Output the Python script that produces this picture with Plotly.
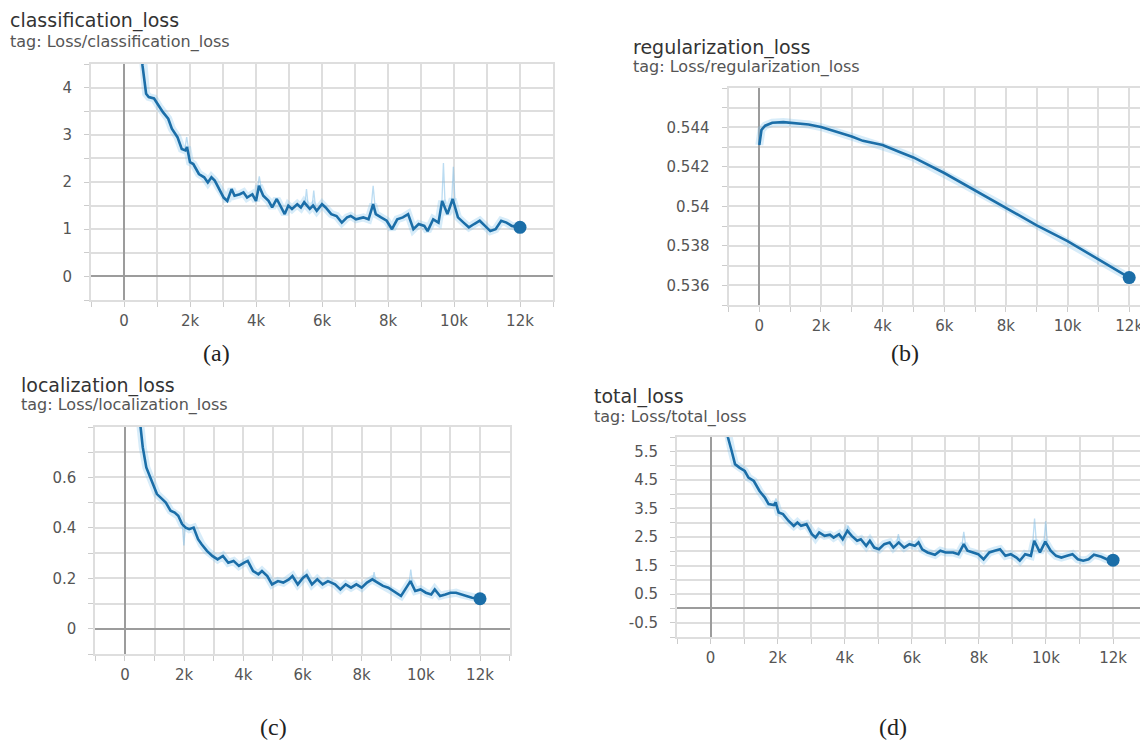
import numpy as np
import plotly.graph_objects as go

# ---------------- data ----------------
x_tick_vals = [0, 2000, 4000, 6000, 8000, 10000, 12000]
x_tick_text = ["0", "2k", "4k", "6k", "8k", "10k", "12k"]

cls_steps = [500, 560, 670, 750, 910, 1070, 1180, 1340, 1450, 1620, 1750, 1860, 1910, 2000, 2100, 2270,
             2430, 2540, 2650, 2750, 2860, 3020, 3130, 3260, 3350, 3510, 3620, 3730, 3890, 4000, 4090,
             4220, 4380, 4490, 4630, 4760, 4870, 4980, 5090, 5250, 5360, 5460, 5630, 5730, 5840, 6000,
             6110, 6280, 6440, 6600, 6760, 6870, 7030, 7250, 7410, 7550, 7630, 7790, 7960, 8120, 8280,
             8450, 8610, 8770, 8930, 9100, 9200, 9370, 9530, 9640, 9800, 9960, 10120, 10290, 10450,
             10610, 10780, 10940, 11100, 11260, 11430, 11590, 11750, 12000]
cls_vals = [5.2, 4.47, 3.87, 3.80, 3.77, 3.59, 3.48, 3.34, 3.13, 2.95, 2.70, 2.67, 2.74, 2.42, 2.38, 2.17,
            2.10, 1.99, 2.10, 2.03, 1.89, 1.67, 1.60, 1.85, 1.71, 1.74, 1.78, 1.67, 1.74, 1.60, 1.92,
            1.71, 1.60, 1.46, 1.64, 1.46, 1.32, 1.50, 1.43, 1.53, 1.46, 1.57, 1.43, 1.50, 1.39, 1.53,
            1.46, 1.32, 1.28, 1.14, 1.25, 1.28, 1.21, 1.25, 1.21, 1.53, 1.32, 1.25, 1.18, 1.00, 1.21,
            1.25, 1.32, 1.00, 1.11, 1.07, 0.96, 1.21, 1.14, 1.60, 1.32, 1.64, 1.25, 1.14, 1.04,
            1.11, 1.18, 1.07, 0.96, 1.00, 1.18, 1.14, 1.07, 1.04]
cls_spike_steps = [1900, 4100, 5530, 5750, 7550, 9680, 9980]
cls_spike_vals = [2.95, 2.12, 1.85, 1.82, 1.92, 2.40, 2.32]
cls_y_ticks = [0, 1, 2, 3, 4]
cls_y_text = ["0", "1", "2", "3", "4"]

reg_steps = [0, 70, 190, 420, 780, 1250, 1600, 2000, 2420, 3000, 3360, 4000, 4530, 5000, 6000, 7000,
             8000, 9000, 10000, 11000, 12000]
reg_vals = [0.54311, 0.54388, 0.54409, 0.54424, 0.54427, 0.54422, 0.54415, 0.54402, 0.54383, 0.54354,
            0.54332, 0.54311, 0.54277, 0.54248, 0.54169, 0.54080, 0.53995, 0.53904, 0.53824, 0.53733,
            0.53639]
reg_y_ticks = [0.536, 0.538, 0.540, 0.542, 0.544]
reg_y_text = ["0.536", "0.538", "0.54", "0.542", "0.544"]

loc_steps = [480, 520, 600, 720, 900, 1080, 1260, 1380, 1540, 1680, 1800, 1930, 2050, 2170, 2320, 2470,
             2590, 2770, 2950, 3130, 3310, 3490, 3670, 3850, 4030, 4150, 4330, 4510, 4630, 4810, 4970,
             5170, 5350, 5540, 5660, 5840, 6020, 6140, 6320, 6500, 6680, 6860, 7100, 7280, 7460, 7640,
             7820, 8000, 8180, 8360, 8540, 8720, 8900, 9150, 9330, 9510, 9650, 9810, 9990, 10170, 10350,
             10470, 10650, 10830, 11000, 11190, 11370, 11550, 11730, 12000]
loc_vals = [0.85, 0.796, 0.72, 0.64, 0.587, 0.534, 0.514, 0.50, 0.468, 0.461, 0.448, 0.415, 0.401, 0.395,
            0.401, 0.355, 0.335, 0.309, 0.289, 0.275, 0.289, 0.262, 0.269, 0.249, 0.262, 0.269, 0.229,
            0.216, 0.229, 0.209, 0.176, 0.189, 0.183, 0.196, 0.209, 0.176, 0.203, 0.213, 0.176, 0.196,
            0.176, 0.189, 0.176, 0.156, 0.176, 0.163, 0.176, 0.163, 0.183, 0.196, 0.183, 0.170, 0.163,
            0.143, 0.130, 0.163, 0.189, 0.150, 0.156, 0.143, 0.136, 0.156, 0.130, 0.136, 0.143, 0.143,
            0.136, 0.130, 0.123, 0.119]
loc_spike_steps = [1990, 8420, 9660]
loc_spike_vals = [0.33, 0.225, 0.235]
loc_y_ticks = [0, 0.2, 0.4, 0.6]
loc_y_text = ["0", "0.2", "0.4", "0.6"]

tot_steps = [450, 520, 630, 730, 860, 1020, 1130, 1290, 1460, 1620, 1730, 1890, 1940, 2030, 2160, 2320,
             2480, 2590, 2700, 2860, 3020, 3130, 3240, 3400, 3560, 3670, 3830, 3940, 4080, 4210, 4370,
             4480, 4640, 4750, 4880, 5020, 5180, 5340, 5450, 5610, 5770, 5930, 6090, 6200, 6310, 6470,
             6690, 6850, 7010, 7230, 7390, 7550, 7660, 7820, 7980, 8140, 8310, 8470, 8630, 8790, 8950,
             9120, 9220, 9380, 9550, 9650, 9820, 9980, 10140, 10300, 10460, 10630, 10790, 10950, 11110,
             11270, 11430, 11650, 11810, 12000]
tot_vals = [6.5, 5.98, 5.51, 5.05, 4.93, 4.81, 4.58, 4.46, 4.11, 3.88, 3.65, 3.62, 3.71, 3.36, 3.30, 3.07,
            2.89, 3.01, 2.89, 2.95, 2.60, 2.48, 2.66, 2.54, 2.58, 2.48, 2.60, 2.42, 2.72, 2.54, 2.37,
            2.42, 2.19, 2.37, 2.13, 2.07, 2.25, 2.31, 2.13, 2.31, 2.13, 2.25, 2.19, 2.31, 2.07, 1.96,
            1.88, 2.02, 1.96, 1.96, 1.90, 2.25, 2.02, 1.96, 1.90, 1.72, 1.96, 2.02, 2.07, 1.84, 1.90,
            1.78, 1.67, 1.90, 1.84, 2.37, 1.96, 2.34, 2.02, 1.84, 1.78, 1.84, 1.90, 1.72, 1.67,
            1.72, 1.88, 1.81, 1.72, 1.69]
tot_spike_steps = [1950, 4100, 5600, 7550, 9660, 9990]
tot_spike_vals = [3.85, 2.90, 2.60, 2.68, 3.15, 3.05]
tot_y_ticks = [-0.5, 0.5, 1.5, 2.5, 3.5, 4.5, 5.5]
tot_y_text = ["-0.5", "0.5", "1.5", "2.5", "3.5", "4.5", "5.5"]

titles = ["classification_loss", "regularization_loss", "localization_loss", "total_loss"]
tags = ["tag: Loss/classification_loss", "tag: Loss/regularization_loss",
        "tag: Loss/localization_loss", "tag: Loss/total_loss"]
captions = ["(a)", "(b)", "(c)", "(d)"]

# ---------------- style / layout ----------------
OFF = 8                      # page body margin of the html page
W, H = 1148 - OFF, 740 - OFF
LINE = "#1b6ea8"
HALO = "rgba(130,195,235,0.32)"
SPIKE = "rgba(120,185,230,0.5)"
GRID = "#dedede"
ZERO = "#9c9c9c"
SANS = "DejaVu Sans, Verdana, sans-serif"
TICKFONT = dict(family=SANS, size=15, color="#555555")

# pixel boxes in screenshot coords: (left, right, top, bottom)
boxes = [(91, 553, 64, 300), (728.5, 1148, 88, 305), (95.4, 509.6, 427, 654), (677, 1146.6, 437, 637)]
x_ranges = [[-1000, 13000], [-1000, 12610], [-1000, 13000], [-1000, 13000]]
y_ranges = [[-0.5, 4.5], [0.535, 0.546], [-0.1, 0.8], [-1.0, 6.0]]
y_minor = [0.5, 0.001, 0.1, 0.5]
title_pos = [(8, 20, 42), (631, 47, 67), (19, 385, 405), (592, 396, 417)]
caption_pos = [(217, 353), (905, 353), (273, 727), (893, 727)]


def px_x(v):
    return (v - OFF) / W


def px_y(v):
    return 1 - (v - OFF) / H


series = [
    (cls_steps, cls_vals, cls_spike_steps, cls_spike_vals, cls_y_ticks, cls_y_text),
    (reg_steps, reg_vals, [], [], reg_y_ticks, reg_y_text),
    (loc_steps, loc_vals, loc_spike_steps, loc_spike_vals, loc_y_ticks, loc_y_text),
    (tot_steps, tot_vals, tot_spike_steps, tot_spike_vals, tot_y_ticks, tot_y_text),
]

fig = go.Figure()
layout = dict(width=W, height=H, margin=dict(l=0, r=0, t=0, b=0),
              paper_bgcolor="white", plot_bgcolor="white", showlegend=False, annotations=[])

for i, (steps, vals, sp_s, sp_v, yt, ytt) in enumerate(series):
    n = "" if i == 0 else str(i + 1)
    xa, ya = "x" + n, "y" + n
    l, r, t, b = boxes[i]
    if sp_s:
        xs, ys = [], []
        for s, v in zip(sp_s, sp_v):
            base = float(np.interp(s, steps, vals))
            xs += [s - 50, s, s + 50, None]
            ys += [base, v, base, None]
        fig.add_trace(go.Scatter(x=xs, y=ys, mode="lines", line=dict(color=SPIKE, width=1.3),
                                 xaxis=xa, yaxis=ya, hoverinfo="skip"))
    fig.add_trace(go.Scatter(x=steps, y=vals, mode="lines", line=dict(color=HALO, width=8),
                             xaxis=xa, yaxis=ya, hoverinfo="skip"))
    fig.add_trace(go.Scatter(x=steps, y=vals, mode="lines", line=dict(color=LINE, width=2.6),
                             xaxis=xa, yaxis=ya))
    fig.add_trace(go.Scatter(x=[steps[-1]], y=[vals[-1]], mode="markers",
                             marker=dict(color=LINE, size=13), xaxis=xa, yaxis=ya))

    layout["xaxis" + n] = dict(
        domain=[px_x(l), min(1.0, px_x(r))], anchor=ya, range=x_ranges[i],
        tickmode="array", tickvals=x_tick_vals, ticktext=x_tick_text, tickfont=TICKFONT,
        showgrid=True, gridcolor=GRID, gridwidth=2,
        minor=dict(dtick=1000, tick0=0, showgrid=True, gridcolor=GRID, gridwidth=2,
                   ticks="outside", ticklen=5, tickcolor="#cccccc"),
        ticks="outside", ticklen=5, tickcolor="#cccccc", ticklabelstandoff=1,
        zeroline=True, zerolinecolor=ZERO, zerolinewidth=2,
        showline=True, linecolor=GRID, linewidth=2, mirror=True, fixedrange=True)
    layout["yaxis" + n] = dict(
        domain=[px_y(b), px_y(t)], anchor=xa, range=y_ranges[i],
        tickmode="array", tickvals=yt, ticktext=ytt, tickfont=TICKFONT,
        showgrid=True, gridcolor=GRID, gridwidth=2,
        minor=dict(dtick=y_minor[i], tick0=0, showgrid=True, gridcolor=GRID, gridwidth=2,
                   ticks="outside", ticklen=5, tickcolor="#cccccc"),
        ticks="outside", ticklen=5, tickcolor="#cccccc", ticklabelstandoff=9,
        zeroline=True, zerolinecolor=ZERO, zerolinewidth=2,
        showline=True, linecolor=GRID, linewidth=2, mirror=(i != 1), fixedrange=True)

    tx, ty1, ty2 = title_pos[i]
    layout["annotations"].append(dict(text=titles[i], x=px_x(tx), y=px_y(ty1), xref="paper", yref="paper",
                                      xanchor="left", yanchor="middle", showarrow=False,
                                      font=dict(family=SANS, size=19, color="#333333")))
    layout["annotations"].append(dict(text=tags[i], x=px_x(tx), y=px_y(ty2), xref="paper", yref="paper",
                                      xanchor="left", yanchor="middle", showarrow=False,
                                      font=dict(family=SANS, size=16, color="#555555")))
    cx, cy = caption_pos[i]
    layout["annotations"].append(dict(text=captions[i], x=px_x(cx), y=px_y(cy), xref="paper", yref="paper",
                                      xanchor="center", yanchor="middle", showarrow=False,
                                      font=dict(family="Liberation Serif, DejaVu Serif, serif", size=24,
                                                color="#222222")))

fig.update_layout(**layout)
fig.write_html("out.html")
